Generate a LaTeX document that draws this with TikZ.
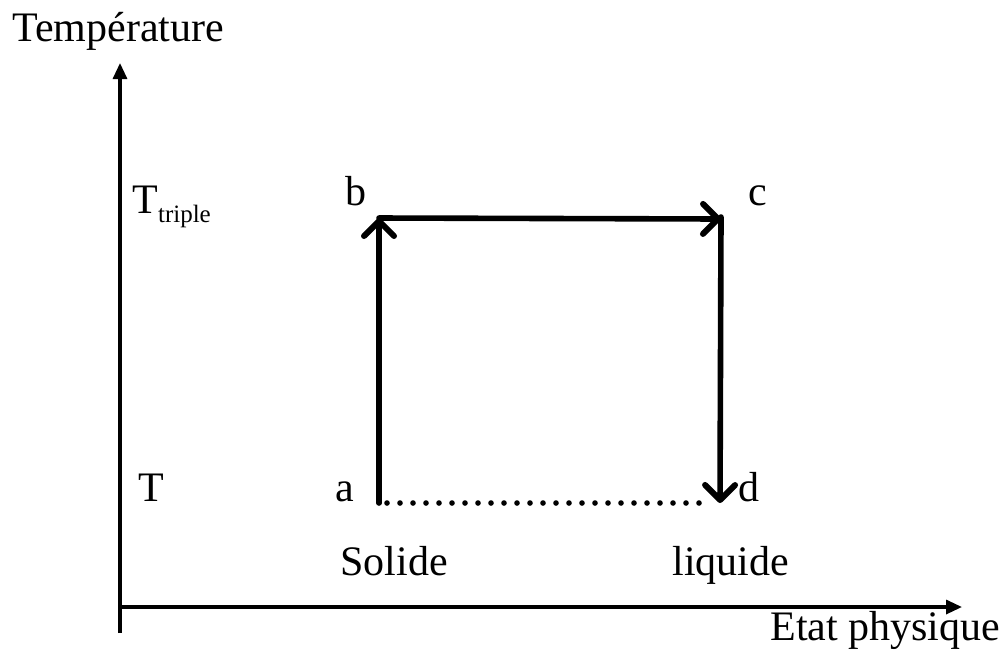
\documentclass[tikz,border=0pt]{standalone}
\usepackage{fontspec}
\setmainfont{Liberation Serif}
\usetikzlibrary{arrows.meta}

\begin{document}
\begin{tikzpicture}[x=0.5pt, y=-0.5pt,
		every node/.style={inner sep=0pt, anchor=base west, font=\fontsize{21}{25}\selectfont},
		axis/.style={line width=1.6pt, -{Triangle[length=8pt, width=7pt]}},
		cycle/.style={line width=2.8pt, line cap=round, -{Straight Barb[length=7.5pt, width=15pt, line width=3pt, line cap=round, line join=round]}},
		way/.style={line width=2.8pt, line cap=round, dash pattern=on 0pt off 6.5pt}]
		\useasboundingbox (0,0) rectangle (1005,660);

		% Axes
		\coordinate (ybot) at (120,633);
		\coordinate (ytop) at (120,63);
		\coordinate (xleft) at (119,607);
		\coordinate (xright) at (962,607);
		\draw[axis] (ybot) -- (ytop);
		\draw[axis] (xleft) -- (xright);
		\node (temp) at (12,41) {Température};
		\node (etat) at (770,640) {Etat physique};

		% Temperatures
		\node (ttriple) at (132,213) {T{\fontsize{12.5}{14}\selectfont\raisebox{-4.5pt}{triple}}};
		\node (tlow) at (138,501) {T};

		% States
		\coordinate (a) at (379,503);
		\coordinate (b) at (379,218);
		\coordinate (c) at (721,219);
		\coordinate (d) at (720,503);
		\node (lbla) at (335,501) {a};
		\node (lblb) at (345,205) {b};
		\node (lblc) at (748,205) {c};
		\node (lbld) at (738,501) {d};
		\node (solide) at (340,575) {Solide};
		\node (liquide) at (672,575) {liquide};

		% Arrows
		\draw[cycle] (a) -- (b);
		\draw[cycle] (b) -- (c);
		\draw[cycle] ([yshift=1pt]c) -- (d);
		\draw[way, shorten <=4pt, shorten >=6.5pt] (a) -- (d);
	\end{tikzpicture}
\end{document}
